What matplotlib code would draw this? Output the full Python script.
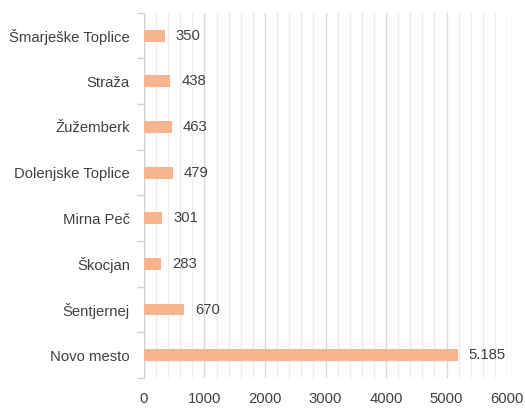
import matplotlib

matplotlib.use("Agg")
import matplotlib.pyplot as plt
from matplotlib.ticker import MultipleLocator, FixedLocator

categories = [
    "Šmarješke Toplice",
    "Straža",
    "Žužemberk",
    "Dolenjske Toplice",
    "Mirna Peč",
    "Škocjan",
    "Šentjernej",
    "Novo mesto",
]
values = [350, 438, 463, 479, 301, 283, 670, 5185]
x_ticks = [0, 1000, 2000, 3000, 4000, 5000, 6000]

plt.rcParams["font.family"] = ["Liberation Sans", "DejaVu Sans"]
text_color = "#404040"

fig = plt.figure(figsize=(5.25, 4.08), dpi=100)
ax = fig.add_axes([0.274, 0.0735, 0.692, 0.895])

y = list(range(len(categories)))
bars = ax.barh(y, values, height=0.26, color="#F8B48C", zorder=3)
ax.set_ylim(len(categories) - 0.5, -0.5)
ax.set_xlim(0, 6000)

ax.set_yticks(y)
ax.set_yticklabels(categories, fontsize=10.7, color=text_color)
ax.yaxis.set_minor_locator(FixedLocator([i - 0.5 for i in range(len(categories) + 1)]))
ax.tick_params(axis="y", which="major", length=0, pad=10)
ax.tick_params(axis="y", which="minor", length=5, color="#d0d0d0", width=1)

ax.set_xticks(x_ticks)
ax.set_xticklabels([str(t) for t in x_ticks], fontsize=10.7, color=text_color)
ax.xaxis.set_minor_locator(MultipleLocator(200))
ax.tick_params(axis="x", which="both", length=0, pad=10)
ax.grid(axis="x", which="major", color="#d9d9d9", linewidth=1, zorder=0)
ax.grid(axis="x", which="minor", color="#ececec", linewidth=1, zorder=0)

for side in ("top", "right", "bottom"):
    ax.spines[side].set_visible(False)
ax.spines["left"].set_color("#d0d0d0")

for bar, value in zip(bars, values):
    label = f"{value:,}".replace(",", ".")
    ax.text(
        bar.get_width() + 180,
        bar.get_y() + bar.get_height() / 2,
        label,
        ha="left",
        va="center",
        fontsize=10.7,
        color=text_color,
        zorder=4,
    )

fig.savefig("out.png")
